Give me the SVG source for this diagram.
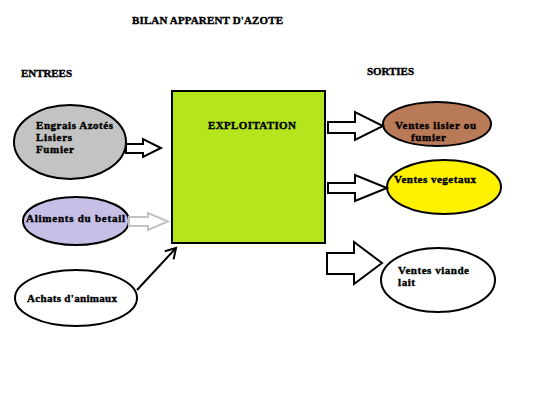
<svg xmlns="http://www.w3.org/2000/svg" width="550" height="412" viewBox="0 0 550 412">
<defs>
<style>
.t{font-family:"Liberation Serif","DejaVu Serif",serif;font-weight:900;font-size:11px;fill:#000;stroke:#000;stroke-width:0.4px}
.e{stroke:#000;stroke-width:2}
.ba{fill:#fff;stroke:#000;stroke-width:2;stroke-linejoin:miter}
</style>
<marker id="open" markerWidth="14" markerHeight="14" refX="11" refY="7" orient="auto" markerUnits="userSpaceOnUse">
<path d="M1,1 L11,7 L1,13" fill="none" stroke="#000" stroke-width="2"/>
</marker>
</defs>
<rect width="550" height="412" fill="#fff"/>
<text class="t" x="132" y="24" textLength="151" lengthAdjust="spacing">BILAN APPARENT D'AZOTE</text>
<text class="t" x="21" y="77" textLength="51" lengthAdjust="spacing">ENTREES</text>
<text class="t" x="367" y="75" textLength="47" lengthAdjust="spacing">SORTIES</text>

<g id="exploitation">
<rect x="172" y="91" width="153" height="152" fill="#b5e61d" stroke="#000" stroke-width="2"/>
<text class="t" x="208" y="129" textLength="88" lengthAdjust="spacing">EXPLOITATION</text>
</g>

<g id="engrais">
<ellipse class="e" cx="70" cy="142" rx="56" ry="37" fill="#c3c3c3"/>
<text class="t" x="36" y="129" textLength="77" lengthAdjust="spacing">Engrais Azotés</text>
<text class="t" x="36" y="141" textLength="36" lengthAdjust="spacing">Lisiers</text>
<text class="t" x="36" y="153" textLength="38" lengthAdjust="spacing">Fumier</text>
</g>

<g id="aliments">
<ellipse class="e" cx="76" cy="221" rx="53" ry="24" fill="#c8bfe7"/>
<text class="t" x="26" y="222" textLength="99" lengthAdjust="spacing">Aliments du betail</text>
</g>

<g id="achats">
<ellipse class="e" cx="76" cy="298" rx="61" ry="28" fill="#fff"/>
<text class="t" x="27" y="302" textLength="90" lengthAdjust="spacing">Achats d'animaux</text>
</g>

<g id="ventes-lisier">
<ellipse class="e" cx="437" cy="124" rx="54" ry="22" fill="#b97a57"/>
<text class="t" x="395" y="129" textLength="81" lengthAdjust="spacing">Ventes lisier ou</text>
<text class="t" x="411" y="141" textLength="35" lengthAdjust="spacing">fumier</text>
</g>

<g id="ventes-vegetaux">
<ellipse class="e" cx="444" cy="187" rx="57" ry="27" fill="#fff200"/>
<text class="t" x="394" y="183" textLength="82" lengthAdjust="spacing">Ventes vegetaux</text>
</g>

<g id="ventes-viande">
<ellipse class="e" cx="438" cy="280" rx="57" ry="32" fill="#fff"/>
<text class="t" x="398" y="274" textLength="71" lengthAdjust="spacing">Ventes viande</text>
<text class="t" x="398" y="286" textLength="17" lengthAdjust="spacing">lait</text>
</g>

<g id="connectors">
<path class="ba" d="M126,144 H143 V139 L161,148 L143,157 V153 H126 Z"/>
<path d="M129,217 H148 V213 L168,221.5 L148,230 V226 H129 Z" fill="#fff" stroke="#c3c3c3" stroke-width="2"/>
<line x1="137" y1="290" x2="176" y2="248" stroke="#000" stroke-width="2" marker-end="url(#open)"/>
<path class="ba" d="M328,122 H355 V112 L383,126 L355,140 V133 H328 Z"/>
<path class="ba" d="M328,183 H355 V175 L387,188 L355,201 V193 H328 Z"/>
<path class="ba" d="M327,253 H354 V242 L382,263 L354,284 V274 H327 Z"/>
</g>
</svg>
